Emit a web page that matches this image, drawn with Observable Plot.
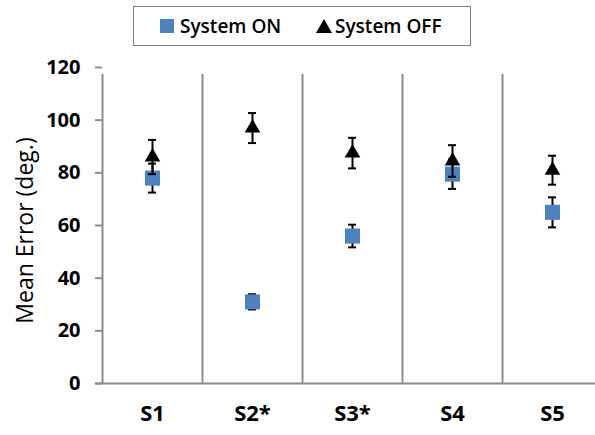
<!DOCTYPE html>
<html><head><meta charset="utf-8">
<script src="https://cdn.jsdelivr.net/npm/d3@7"></script>
<script src="https://cdn.jsdelivr.net/npm/@observablehq/plot@0.6"></script>
<style>
body{margin:0;background:#fff;font-family:"Open Sans",sans-serif;}
#wrap{position:relative;width:595px;height:435px;overflow:hidden;}
#legend{position:absolute;left:133px;top:6px;width:336px;height:38px;border:1.5px solid #7f7f7f;background:#fff;font-size:19px;font-weight:600;color:#000;box-sizing:content-box;}
#legend .item{position:absolute;top:0;height:38px;display:flex;align-items:center;white-space:nowrap;}
#legend .sq{width:14px;height:14px;background:#4f81bd;margin-right:6px;}
#legend .tri{width:0;height:0;border-left:8.5px solid transparent;border-right:8.5px solid transparent;border-bottom:14px solid #000;margin-right:3px;}
</style></head>
<body>
<div id="wrap"><div id="legend"></div></div>
<script>
const subjects = ["S1", "S2*", "S3*", "S4", "S5"];
const onMean = [78, 31, 56, 79.5, 65];
const onErr = [5.5, 2.9, 4.3, 5.6, 5.7];
const offMean = [86, 97, 87.5, 84.5, 81];
const offErr = [6.5, 5.7, 5.8, 6, 5.5];
const yTicks = [0, 20, 40, 60, 80, 100, 120];
const seriesNames = ["System ON", "System OFF"];
const yLabel = "Mean Error (deg.)";

const onData = subjects.map((s, i) => ({s, m: onMean[i], lo: onMean[i] - onErr[i], hi: onMean[i] + onErr[i]}));
const offData = subjects.map((s, i) => ({s, m: offMean[i], lo: offMean[i] - offErr[i], hi: offMean[i] + offErr[i]}));

const xRange = [102, 602];
const bw = (xRange[1] - xRange[0]) / subjects.length;
const gray = "#8c8c8c";
const font = "'Open Sans', sans-serif";
const capInset = bw / 2 - 4;

const chart = Plot.plot({
  width: 595, height: 435,
  marginLeft: 102, marginRight: 0, marginTop: 67, marginBottom: 52,
  style: {fontFamily: font, background: "transparent", color: "#000"},
  x: {domain: subjects, range: xRange, padding: 0},
  y: {domain: [0, 120], range: [383, 67]},
  marks: [
    Plot.ruleX(subjects, {x: d => d, dx: -bw / 2, y1: 0, y2: 120, insetBottom: -7, stroke: gray, strokeWidth: 2}),
    Plot.ruleY([0], {insetLeft: -7, stroke: gray, strokeWidth: 2}),
    Plot.axisY(yTicks, {tickSize: 7, stroke: gray, strokeWidth: 2, fontWeight: "bold", fontSize: 20, tickPadding: 15, label: null, fill: "#000"}),
    Plot.axisX({tickSize: 0, fontWeight: "bold", fontSize: 22, tickPadding: 22, label: null, fill: "#000"}),
    Plot.text([yLabel], {frameAnchor: "left", rotate: -90, dx: -77, dy: 5, fontSize: 23, textAnchor: "middle", fill: "#000"}),
    Plot.ruleX(onData, {x: "s", y1: "lo", y2: "hi", stroke: "#000", strokeWidth: 2}),
    Plot.tickY(onData, {x: "s", y: "lo", insetLeft: capInset, insetRight: capInset, stroke: "#000", strokeWidth: 2}),
    Plot.tickY(onData, {x: "s", y: "hi", insetLeft: capInset, insetRight: capInset, stroke: "#000", strokeWidth: 2}),
    Plot.dot(onData, {x: "s", y: "m", symbol: "square", r: 8.5, fill: "#4f81bd", stroke: null}),
    Plot.ruleX(offData, {x: "s", y1: "lo", y2: "hi", stroke: "#000", strokeWidth: 2}),
    Plot.tickY(offData, {x: "s", y: "lo", insetLeft: capInset, insetRight: capInset, stroke: "#000", strokeWidth: 2}),
    Plot.tickY(offData, {x: "s", y: "hi", insetLeft: capInset, insetRight: capInset, stroke: "#000", strokeWidth: 2}),
    Plot.dot(offData, {x: "s", y: "m", symbol: "triangle", r: 5.8, fill: "#000", stroke: null})
  ]
});
const wrap = document.getElementById("wrap");
wrap.insertBefore(chart, wrap.firstChild);

const legend = document.getElementById("legend");
const markers = ["sq", "tri"];
const lefts = [26, 182];
seriesNames.forEach((name, i) => {
  const item = document.createElement("div");
  item.className = "item";
  item.style.left = lefts[i] + "px";
  const mk = document.createElement("span");
  mk.className = markers[i];
  const t = document.createElement("span");
  t.textContent = name;
  item.appendChild(mk); item.appendChild(t);
  legend.appendChild(item);
});
</script>
</body></html>
